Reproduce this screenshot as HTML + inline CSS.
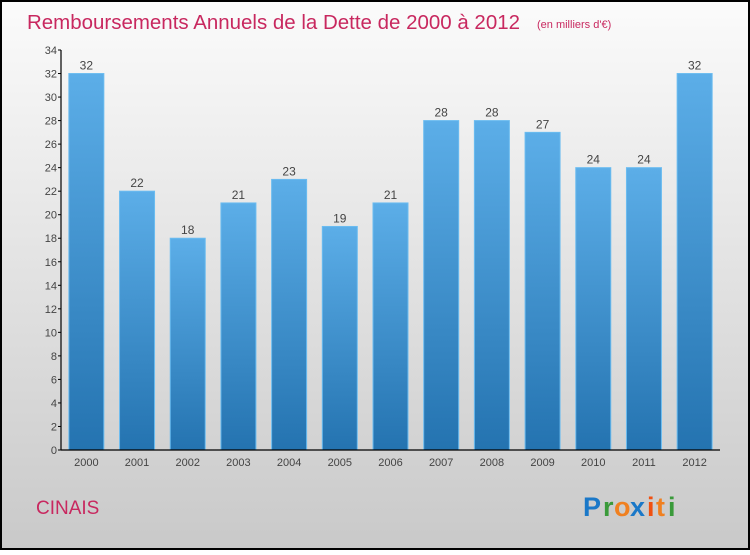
<!DOCTYPE html>
<html><head><meta charset="utf-8"><style>
body{margin:0}
svg text{font-family:"Liberation Sans",sans-serif}
</style></head><body>
<svg id="c" width="750" height="550" xmlns="http://www.w3.org/2000/svg">
<defs>
<linearGradient id="bg" x1="0" y1="0" x2="0" y2="1"><stop offset="0" stop-color="#fbfbfb"/><stop offset="1" stop-color="#c9c9c9"/></linearGradient>
<linearGradient id="bar" x1="0" y1="0" x2="0" y2="1"><stop offset="0" stop-color="#5caee8"/><stop offset="1" stop-color="#2473b0"/></linearGradient>
</defs>
<rect x="1" y="1" width="748" height="548" fill="url(#bg)" stroke="#000" stroke-width="2"/>
<text x="27" y="29" font-size="20" fill="#c8285f" textLength="493" lengthAdjust="spacingAndGlyphs">Remboursements Annuels de la Dette de 2000 à 2012</text>
<text x="537" y="28" font-size="11" fill="#c8285f">(en milliers d'€)</text>
<text x="36" y="514" font-size="19" fill="#c8285f">CINAIS</text>
<g font-size="27" font-weight="bold" font-family="'Liberation Sans',sans-serif">
<text x="583" y="516" fill="#1a78c8">P</text><text x="603" y="516" fill="#3a9a3a">r</text><text x="614" y="516" fill="#f08020">o</text><text x="630" y="516" fill="#1a78c8">x</text><text x="647" y="516" fill="#f05010">i</text><text x="656" y="516" fill="#f08020">t</text><text x="668" y="516" fill="#3a9a3a">i</text>
</g>
<g id="plot"></g>
</svg>
<script>
const categories=["2000","2001","2002","2003","2004","2005","2006","2007","2008","2009","2010","2011","2012"];
const values=[32,22,18,21,23,19,21,28,28,27,24,24,32];
const yTicks=[0,2,4,6,8,10,12,14,16,18,20,22,24,26,28,30,32,34];
const NS="http://www.w3.org/2000/svg";
const g=document.getElementById('plot');
const x0=61,x1=720,y0=450,yTop=50,yMax=34;
const band=(x1-x0)/categories.length;
const y=v=>y0-(v/yMax)*(y0-yTop);
const xc=i=>x0+band*(i+0.5);
function mk(t,a){const e=document.createElementNS(NS,t);for(const k in a)e.setAttribute(k,a[k]);g.appendChild(e);return e;}
values.forEach((v,i)=>{
 const r=mk('rect',{x:xc(i)-17.5,y:y(v),width:35,height:y0-y(v),fill:'url(#bar)',stroke:'#6bbcf0','stroke-width':1});
 
 
 const t=mk('text',{x:xc(i),y:y(v)-4,'font-size':12,fill:'#444','text-anchor':'middle'});t.textContent=v;
 
 
 const c=mk('text',{x:xc(i),y:466,'font-size':11,fill:'#444','text-anchor':'middle'});c.textContent=categories[i];
 
 
});
yTicks.forEach(v=>{
 const l=mk('line',{x1:x0-3,x2:x0,y1:y(v),y2:y(v),stroke:'#000'});
 
 
 const t=mk('text',{x:x0-4,y:y(v)+4,'font-size':11,fill:'#444','text-anchor':'end'});t.textContent=v;
 
 
});
const ya=mk('line',{x1:x0,x2:x0,y1:yTop,y2:y0,stroke:'#000','stroke-width':1.2});


const xa=mk('line',{x1:x0,x2:x1,y1:y0,y2:y0,stroke:'#000','stroke-width':1.2});


</script>
</body></html>
